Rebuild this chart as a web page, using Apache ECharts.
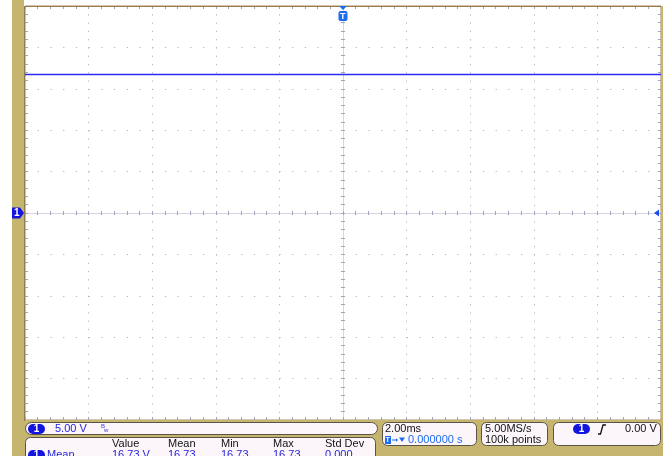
<!DOCTYPE html>
<html>
<head>
<meta charset="utf-8">
<script src="https://cdn.jsdelivr.net/npm/echarts/dist/echarts.min.js"></script>
<style>
  html, body { margin: 0; padding: 0; background: #ffffff; }
  #scope { width: 663px; height: 456px; }
</style>
</head>
<body>
<div id="scope"></div>
<script>
// Acquisition: channel 1, 2 ms/div, 5 V/div, 10 x 10 divisions
const timeMs = [-10, -8, -6, -4, -2, 0, 2, 4, 6, 8, 10];
const ch1Volts = [16.73, 16.73, 16.73, 16.73, 16.73, 16.73, 16.73, 16.73, 16.73, 16.73, 16.73];
const timeRange = [-10, 10];   // ms, 2.00 ms per division
const voltRange = [-25, 25];   // V, 5.00 V per division
const triggerTime = 0;
const triggerLevel = 0;

// Readouts
const ch1Scale = '5.00 V';
const horizScale = '2.00ms';
const triggerPos = '0.000000 s';
const sampleRate = '5.00MS/s';
const recordLength = '100k points';
const trigLevelText = '0.00 V';
const measHeaders = ['Value', 'Mean', 'Min', 'Max', 'Std Dev'];
const measRowName = 'Mean';
const measValues = ['16.73 V', '16.73', '16.73', '16.73', '0.000'];

const GRID = { left: 25, top: 6, width: 636, height: 414 };
const FONT = '"Liberation Sans", Arial, sans-serif';
const TRACE = '#2a2af2';
const DOT = '#aeb3c6';
const TICK = '#9fa5bb';

const chart = echarts.init(document.getElementById('scope'), null, { renderer: 'canvas' });

function xAx(grid, pos, opts) {
  return Object.assign({
    type: 'value', gridIndex: grid, position: pos,
    min: timeRange[0], max: timeRange[1], interval: 2,
    axisLabel: { show: false },
    axisLine: { show: false, onZero: false },
    axisTick: { show: true, inside: true, length: 3, lineStyle: { color: TICK } },
    minorTick: { show: true, splitNumber: 5, length: 3, lineStyle: { color: TICK } },
    splitLine: { show: false }
  }, opts || {});
}
function yAx(grid, pos, opts) {
  return Object.assign({
    type: 'value', gridIndex: grid, position: pos,
    min: voltRange[0], max: voltRange[1], interval: 5,
    axisLabel: { show: false },
    axisLine: { show: false, onZero: false },
    axisTick: { show: true, inside: true, length: 3, lineStyle: { color: TICK } },
    minorTick: { show: true, splitNumber: 5, length: 3, lineStyle: { color: TICK } },
    splitLine: { show: false }
  }, opts || {});
}

const divX = GRID.width / 10 / 5;   // minor step along x, px
const divY = GRID.height / 10 / 5;  // minor step along y, px

chart.setOption({
  animation: false,
  backgroundColor: '#ffffff',
  grid: [
    Object.assign({ show: true, backgroundColor: '#ffffff', borderColor: '#a38a5c', borderWidth: 1, containLabel: false }, GRID),
    Object.assign({ containLabel: false }, GRID),
    Object.assign({ containLabel: false }, GRID)
  ],
  xAxis: [
    xAx(0, 'bottom', { splitLine: { show: true, lineStyle: { color: DOT, width: 1, type: [1.2, divY - 1.2] } } }),
    xAx(0, 'top'),
    // center crosshair: ticks on both sides of the zero lines
    xAx(1, 'bottom', { axisLine: { show: true, onZero: true, lineStyle: { color: '#d3d6e2', width: 1 } },
                       axisTick: { show: true, inside: true, length: 2, lineStyle: { color: TICK } },
                       minorTick: { show: true, splitNumber: 5, length: 2, lineStyle: { color: TICK } } }),
    xAx(2, 'bottom', { axisLine: { show: false, onZero: true },
                       axisTick: { show: true, inside: false, length: 2, lineStyle: { color: TICK } },
                       minorTick: { show: true, splitNumber: 5, length: 2, lineStyle: { color: TICK } } })
  ],
  yAxis: [
    yAx(0, 'left', { splitLine: { show: true, lineStyle: { color: DOT, width: 1, type: [1.2, divX - 1.2] } } }),
    yAx(0, 'right'),
    yAx(1, 'left', { axisLine: { show: true, onZero: true, lineStyle: { color: '#d3d6e2', width: 1 } },
                     axisTick: { show: true, inside: true, length: 2, lineStyle: { color: TICK } },
                     minorTick: { show: true, splitNumber: 5, length: 2, lineStyle: { color: TICK } } }),
    yAx(2, 'left', { axisLine: { show: false, onZero: true },
                     axisTick: { show: true, inside: false, length: 2, lineStyle: { color: TICK } },
                     minorTick: { show: true, splitNumber: 5, length: 2, lineStyle: { color: TICK } } })
  ],
  series: [{
    name: 'CH1',
    type: 'line',
    xAxisIndex: 0, yAxisIndex: 0,
    data: timeMs.map((t, i) => [t, ch1Volts[i]]),
    showSymbol: false,
    lineStyle: { color: TRACE, width: 1.6 },
    z: 10
  }]
});

// On-screen markers placed through the plot's own scale
const trigPx = chart.convertToPixel({ gridIndex: 0 }, [triggerTime, voltRange[1]]);
const gndPx = chart.convertToPixel({ gridIndex: 0 }, [timeRange[0], 0]);
const lvlPx = chart.convertToPixel({ gridIndex: 0 }, [timeRange[1], triggerLevel]);

const G = [];
const txt = (x, y, text, fill, size, extra) => G.push(Object.assign({
  type: 'text', z: 30,
  style: { x: x, y: y, text: text, fill: fill, font: (size || 11) + 'px ' + FONT, verticalAlign: 'middle', align: 'left' }
}, extra || {}));

// frame: gold side strip, right strip, bottom panel
G.push({ type: 'rect', z: 1, shape: { x: 12, y: 0, width: 12, height: 456 }, style: { fill: '#c6b56f' } });
G.push({ type: 'rect', z: 1, shape: { x: 661, y: 6, width: 2, height: 450 }, style: { fill: '#c6b56f' } });
G.push({ type: 'rect', z: 1, shape: { x: 12, y: 420, width: 651, height: 36 }, style: { fill: '#c6b56f' } });
G.push({ type: 'line', z: 2, shape: { x1: 24.5, y1: 6, x2: 24.5, y2: 421 }, style: { stroke: '#8f7d52', lineWidth: 1 } });
G.push({ type: 'line', z: 2, shape: { x1: 25, y1: 6.5, x2: 661, y2: 6.5 }, style: { stroke: '#9c7a4c', lineWidth: 1 } });

// trigger position marker
G.push({ type: 'polygon', z: 20, shape: { points: [[trigPx[0] - 4, trigPx[1]], [trigPx[0] + 4, trigPx[1]], [trigPx[0], trigPx[1] + 4]] }, style: { fill: '#1c6cf0' } });
G.push({ type: 'rect', z: 20, shape: { x: trigPx[0] - 4.5, y: trigPx[1] + 5, width: 9, height: 10, r: 2 }, style: { fill: '#1c6cf0' } });
txt(trigPx[0] - 3, trigPx[1] + 10.5, 'T', '#ffffff', 9, {});
G[G.length - 1].style.font = 'bold 9px ' + FONT;

// channel 1 ground marker
G.push({ type: 'polygon', z: 20, shape: { points: [[12, gndPx[1] - 5.5], [20, gndPx[1] - 5.5], [24, gndPx[1]], [20, gndPx[1] + 5.5], [12, gndPx[1] + 5.5]] }, style: { fill: '#1414e0' } });
txt(14, gndPx[1] + 0.5, '1', '#ffffff', 9);
G[G.length - 1].style.font = 'bold 10px ' + FONT;

// trigger level marker
G.push({ type: 'polygon', z: 20, shape: { points: [[lvlPx[0] - 7, lvlPx[1]], [lvlPx[0] - 2, lvlPx[1] - 3.5], [lvlPx[0] - 2, lvlPx[1] + 3.5]] }, style: { fill: '#1c4cf0' } });

// readout boxes
const BOX_FILL = '#fcf6fb';
const BOX_EDGE = '#5a5448';
const box = (x, y, w, h, r) => G.push({ type: 'rect', z: 22, shape: { x: x, y: y, width: w, height: h, r: r }, style: { fill: BOX_FILL, stroke: BOX_EDGE, lineWidth: 1 } });
box(25.5, 422.5, 352, 12, 6);
box(25.5, 437.5, 350, 30, 5);
box(382.5, 422.5, 94, 23, 5);
box(481.5, 422.5, 66, 23, 5);
box(553.5, 422.5, 107, 23, 5);

const badge = (x, y) => {
  G.push({ type: 'rect', z: 25, shape: { x: x, y: y, width: 17, height: 10, r: 5 }, style: { fill: '#1414e0' } });
  G.push({ type: 'text', z: 30, style: { x: x + 8.5, y: y + 5.5, text: '1', fill: '#ffffff', font: 'bold 10px ' + FONT, align: 'center', verticalAlign: 'middle' } });
};

// channel scale
badge(28, 424);
txt(55, 429, ch1Scale, '#2424d6', 11);
txt(101, 426, 'B', '#3a3ae0', 6);
txt(104, 430, 'w', '#3a3ae0', 6);

// measurement table
const colX = [112, 168, 221, 273, 325];
measHeaders.forEach((h, i) => txt(colX[i], 443.5, h, '#111111', 11));
badge(28, 450);
txt(47, 455, measRowName, '#2424d6', 11);
measValues.forEach((v, i) => txt(colX[i], 455, v, '#2424d6', 11));

// horizontal readout
txt(385, 429, horizScale, '#111111', 11);
G.push({ type: 'rect', z: 25, shape: { x: 385, y: 436, width: 6, height: 8 }, style: { fill: '#1c6cf0' } });
txt(385.6, 440.3, 'T', '#ffffff', 7);
G[G.length - 1].style.font = 'bold 7px ' + FONT;
G.push({ type: 'line', z: 25, shape: { x1: 392, y1: 440, x2: 396, y2: 440 }, style: { stroke: '#1c6cf0', lineWidth: 1 } });
G.push({ type: 'polygon', z: 25, shape: { points: [[396, 438.3], [398, 440], [396, 441.7]] }, style: { fill: '#1c6cf0' } });
G.push({ type: 'polygon', z: 25, shape: { points: [[399, 437.5], [405, 437.5], [402, 442]] }, style: { fill: '#1c6cf0' } });
txt(408, 440, triggerPos, '#1c6cf0', 11);

// acquisition readout
txt(485, 429, sampleRate, '#111111', 11);
txt(485, 440, recordLength, '#111111', 11);

// trigger readout
badge(573, 424);
G.push({ type: 'polyline', z: 25, shape: { points: [[598, 434], [600.5, 434], [603, 425], [606, 425]] }, style: { stroke: '#111111', lineWidth: 1.3, fill: null } });
txt(625, 429, trigLevelText, '#111111', 11);

chart.setOption({ graphic: G });
</script>
</body>
</html>
